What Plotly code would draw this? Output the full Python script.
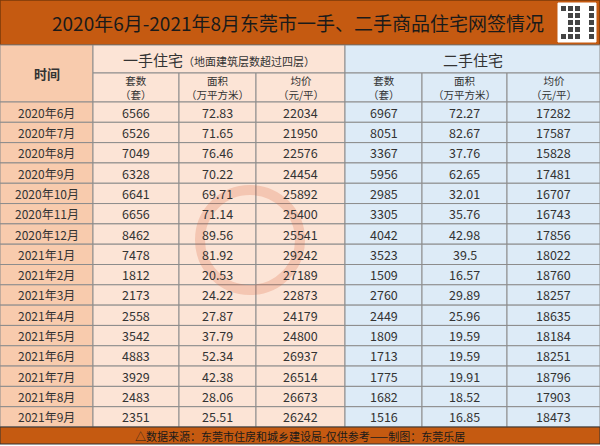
import plotly.graph_objects as go

months = ["2020年6月","2020年7月","2020年8月","2020年9月","2020年10月","2020年11月","2020年12月",
          "2021年1月","2021年2月","2021年3月","2021年4月","2021年5月","2021年6月","2021年7月","2021年8月","2021年9月"]
new_units = [6566,6526,7049,6328,6641,6656,8462,7478,1812,2173,2558,3542,4883,3929,2483,2351]
new_area = ["72.83","71.65","76.46","70.22","69.71","71.14","89.56","81.92","20.53","24.22","27.87","37.79","52.34","42.38","28.06","25.51"]
new_price = [22034,21950,22576,24454,25892,25400,25541,29242,27189,22873,24179,24800,26937,26514,26673,26242]
old_units = [6967,8051,3367,5956,2985,3305,4042,3523,1509,2760,2449,1809,1713,1775,1682,1516]
old_area = ["72.27","82.67","37.76","62.65","32.01","35.76","42.98","39.5","16.57","29.89","25.96","19.59","19.59","19.91","18.52","16.85"]
old_price = [17282,17587,15828,17481,16707,16743,17856,18022,18760,18257,18635,18184,18251,18796,17903,18473]
title = "2020年6月-2021年8月东莞市一手、二手商品住宅网签情况"
footer = "△数据来源：东莞市住房和城乡建设局-仅供参考——制图：东莞乐居"

ORANGE = "#C55A11"; TIMEC = "#F8CBAD"; LEFT = "#FCE4D6"; RIGHT = "#DDEBF7"; BORDER = "#8c8c8c"
FONT = "Noto Sans CJK SC"; TXT = "#333333"
xe = [0, 93, 179, 256, 345, 422, 507, 600]
y_title, y_h1, y_h2, y_d = 0, 45, 73, 102
rh = (427 - 102) / 16
y_foot, y_end = 427, 444

shapes, ann = [], []
def rect(x0, y0, x1, y1, fill, line=BORDER, w=1):
    shapes.append(dict(type="rect", x0=x0, x1=x1, y0=y0, y1=y1, fillcolor=fill,
                       line=dict(color=line, width=w), layer="below"))
def text(x, y, s, size=11, color=TXT, **kw):
    ann.append(dict(x=x, y=y, text=s, showarrow=False, font=dict(family=FONT, size=size, color=color), **kw))

rect(0, y_title, 600, y_h1, ORANGE, "#7a3a0a", 1.5)
text(298, 22, title, 19, "#1a1a1a")
rect(558, 3, 596, 42, "white", "white")
for i in range(5):
    for j in range(5):
        if (i * 7 + j * 3) % 3 != 0 or i in (0, 4) and j in (0, 4):
            rect(561 + i * 7, 6 + j * 7, 566 + i * 7, 11 + j * 7, "#444", "#444", 0)

rect(xe[0], y_h1, xe[1], y_d, TIMEC)
text(46.5, (y_h1 + y_d) / 2, "<b>时间</b>", 13)
rect(xe[1], y_h1, xe[4], y_h2, LEFT)
text((xe[1] + xe[4]) / 2, (y_h1 + y_h2) / 2, "一手住宅<span style='font-size:11px'>（地面建筑层数超过四层）</span>", 15)
rect(xe[4], y_h1, xe[7], y_h2, RIGHT)
text((xe[4] + xe[7]) / 2, (y_h1 + y_h2) / 2, "二手住宅", 15)
subs = ["套数<br>（套）", "面积<br>（万平方米）", "均价<br>（元/平）"] * 2
for k in range(6):
    rect(xe[k + 1], y_h2, xe[k + 2], y_d, LEFT if k < 3 else RIGHT)
    text((xe[k + 1] + xe[k + 2]) / 2, (y_h2 + y_d) / 2, subs[k], 10.5)

cols = [new_units, new_area, new_price, old_units, old_area, old_price]
for r, m in enumerate(months):
    y0 = y_d + r * rh; y1 = y0 + rh; yc = (y0 + y1) / 2
    rect(xe[0], y0, xe[1], y1, TIMEC)
    text(46.5, yc, m, 12)
    for k in range(6):
        rect(xe[k + 1], y0, xe[k + 2], y1, LEFT if k < 3 else RIGHT)
        text((xe[k + 1] + xe[k + 2]) / 2, yc, str(cols[k][r]), 12.5)

rect(0, y_foot, 600, y_end, ORANGE, "#333", 1)
text(300, (y_foot + y_end) / 2, footer, 11, "#1a1a1a")
shapes.append(dict(type="circle", x0=200, x1=300, y0=190, y1=290, fillcolor="rgba(0,0,0,0)",
                   line=dict(color="rgba(220,90,50,0.22)", width=10), layer="above"))

fig = go.Figure()
fig.update_layout(width=600, height=446, margin=dict(l=0, r=0, t=0, b=0),
                  paper_bgcolor="white", plot_bgcolor="white",
                  xaxis=dict(range=[0, 600], visible=False, fixedrange=True),
                  yaxis=dict(range=[446, 0], visible=False, fixedrange=True),
                  shapes=shapes, annotations=ann, showlegend=False)
fig.write_html("out.html", config={"displayModeBar": False},
               post_script="document.body.style.margin='0';document.body.style.overflow='hidden';")
